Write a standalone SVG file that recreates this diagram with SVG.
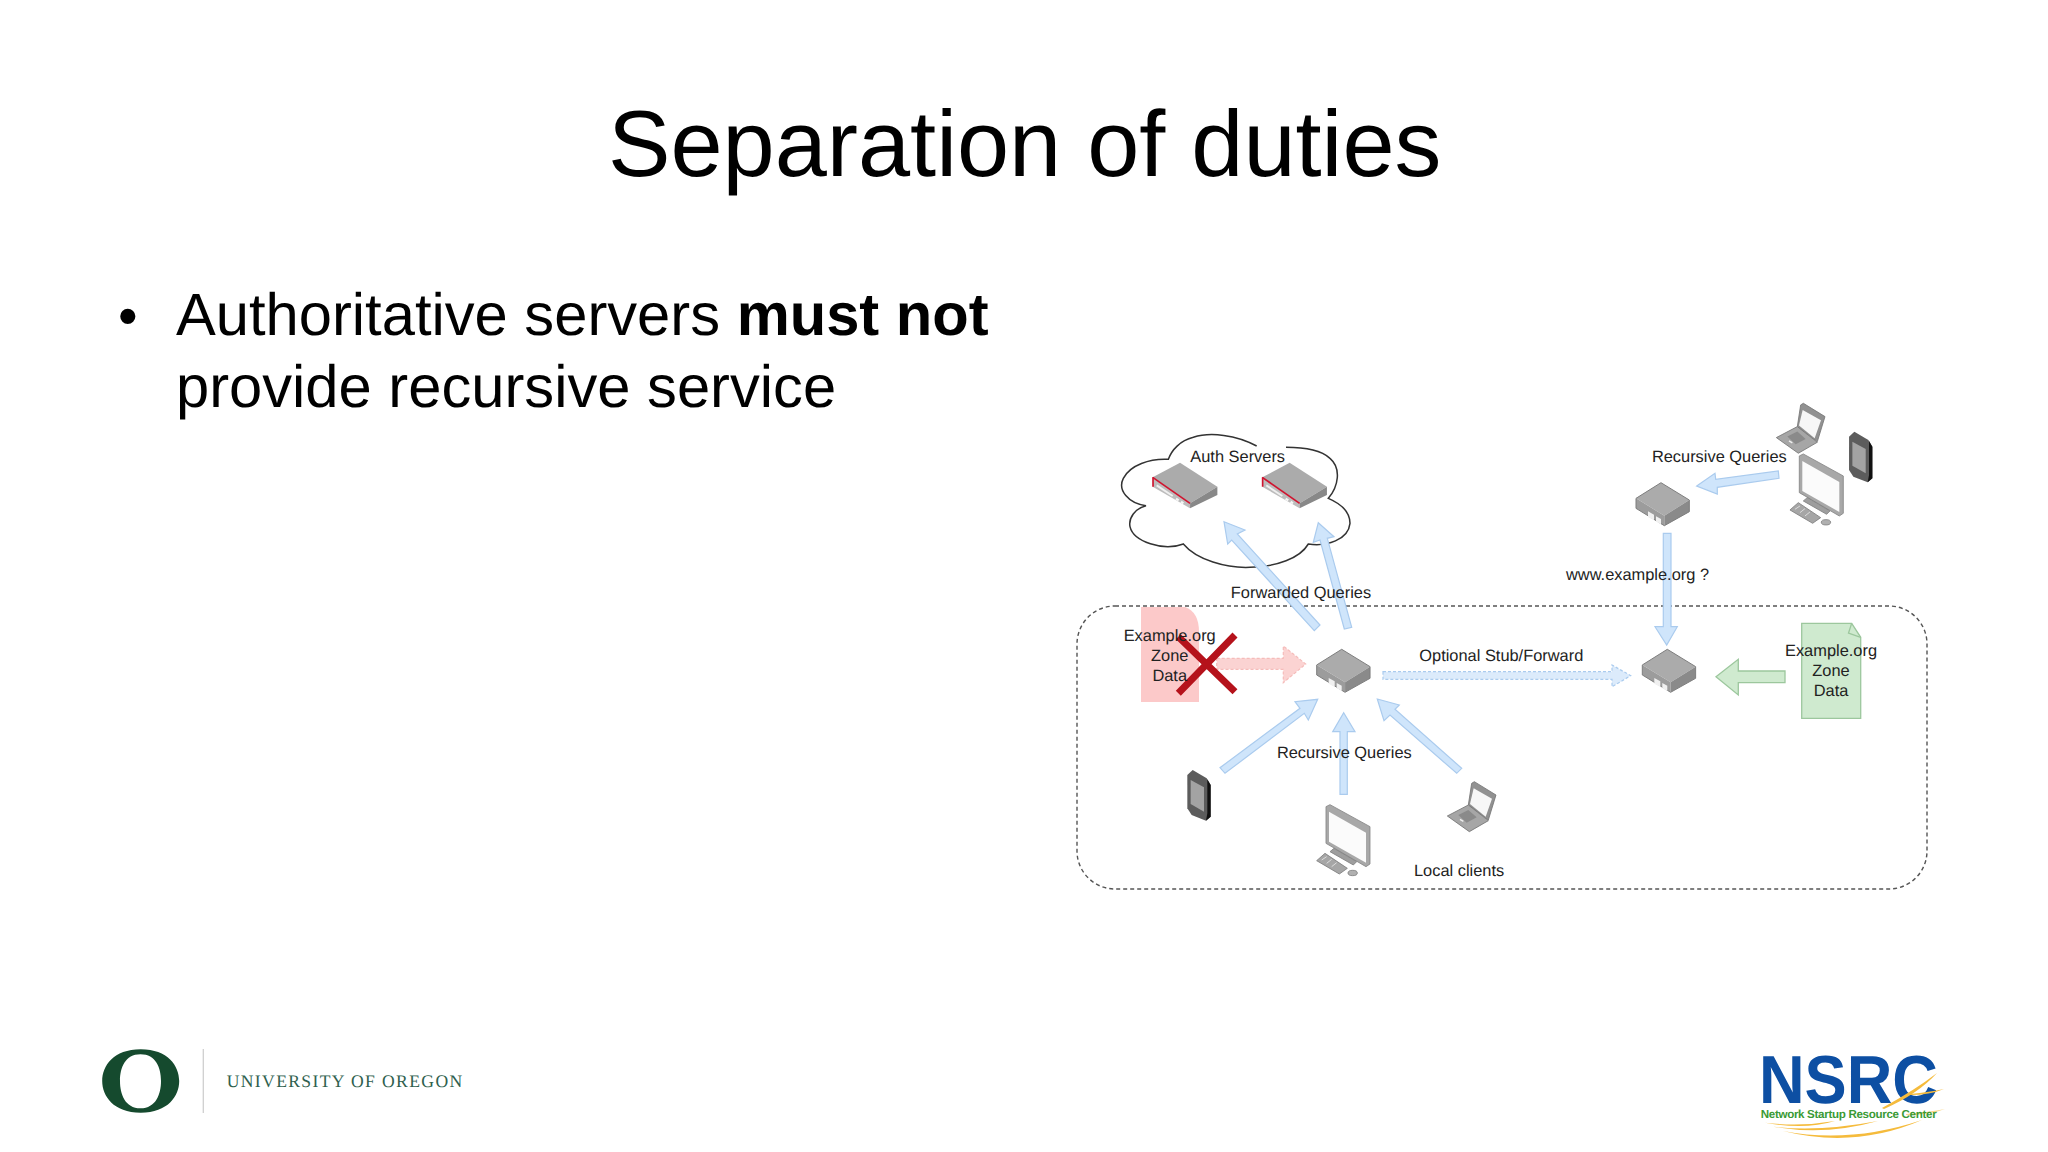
<svg xmlns="http://www.w3.org/2000/svg" width="2048" height="1152" viewBox="0 0 2048 1152">
<style>
text{font-family:"Liberation Sans",Arial,sans-serif;fill:#000;text-rendering:geometricPrecision}
.lbl{font-size:16.4px;fill:#222;text-anchor:middle}
.lbs{font-size:16.4px;fill:#222}
.blue{fill:#cfe5fb;stroke:#aacbee;stroke-width:1.2}
.blued{fill:#dcebfb;stroke:#aacbee;stroke-width:1.2;stroke-dasharray:3 2}
.redd{fill:#fbd3d2;stroke:#f5bcba;stroke-width:1.2;stroke-dasharray:3 2}
.green{fill:#cfeacf;stroke:#9cc79d;stroke-width:1.3}
</style>
<defs>
<g id="box">
<path d="M0 47L75 0L160 52L85 99Z" fill="#ababab"/>
<path d="M0 47L85 99V129L0 77Z" fill="#9c9c9c"/>
<path d="M85 99L160 52V87L85 129Z" fill="#8a8a8a"/>
<path d="M0 47L75 0L160 52V87L85 129L0 77Z" fill="none" stroke="#7d7d7d" stroke-width="3"/>
<path d="M36 86l18 10v17l-18-10ZM60 101l15 8v16l-15-8Z" fill="#f0f0f0"/>
</g>
<g id="server">
<path d="M0 44L82 0L194 72L112 122Z" fill="#ababab"/>
<path d="M0 44L112 122V137L0 72Z" fill="#bdbdbd"/>
<path d="M112 122L194 72V97L112 137Z" fill="#888"/>
<path d="M0 44L112 122" fill="none" stroke="#d0142f" stroke-width="5"/>
<path d="M1 44V72" fill="none" stroke="#d0142f" stroke-width="5"/>
<path d="M12 68L60 100" fill="none" stroke="#efefef" stroke-width="6"/>
<path d="M70 108l8 5M85 117l7 5" fill="none" stroke="#f5f5f5" stroke-width="7"/>
</g>
<g id="phone">
<path d="M382 225L398 210L440 235L452 255V350L438 362L395 345L382 325Z" fill="#5c5c5c"/>
<path d="M442 238L452 255V350L438 362L442 340Z" fill="#111"/>
<path d="M392 240L432 262V335L392 312Z" fill="#a3a3a3"/>
</g>
<g id="desktop">
<path d="M798 320L810 314L930 380V492L918 500L798 430Z" fill="#a8a8a8" stroke="#868686" stroke-width="2.5"/>
<path d="M807 335L918 398V488L807 425Z" fill="#fbfbfb"/>
<path d="M810 455L822 445L890 485L880 495Z" fill="#9e9e9e" stroke="#808080" stroke-width="2.5"/>
<path d="M770 482L795 460L862 505L838 522Z" fill="#a6a6a6" stroke="#7d7d7d" stroke-width="2.5"/>
<path d="M785 480L800 470M800 490L815 478M815 500L830 488" stroke="#dcdcdc" stroke-width="3"/>
<ellipse cx="878" cy="519" rx="14" ry="8" fill="#b0b0b0" stroke="#808080" stroke-width="2.5"/>
</g>
<g id="laptop">
<path d="M1235 250L1243 245L1308 285L1285 360L1225 315Z" fill="#919191" stroke="#757575" stroke-width="2.5"/>
<path d="M1241 265L1296 296L1277 350L1230 312Z" fill="#f7f7f7"/>
<path d="M1162 348L1225 315L1285 362L1228 395Z" fill="#a6a6a6" stroke="#757575" stroke-width="2.5"/>
<path d="M1195 345L1225 330L1250 352L1220 368Z" fill="#8a8a8a"/>
<path d="M1200 358l10 6" stroke="#f0f0f0" stroke-width="4"/>
</g>
</defs>
<rect width="2048" height="1152" fill="#fff"/>

<g id="slide-text">
<text x="608" y="176" font-size="93.7">Separation of duties</text>
<text x="118" y="335" font-size="56">•</text>
<text x="176" y="335" font-size="59.7">Authoritative servers <tspan font-weight="700">must not</tspan></text>
<text x="176" y="407" font-size="59.7">provide recursive service</text>
</g>

<g id="local-network"><rect x="1077" y="606" width="850" height="283" rx="38" fill="none" stroke="#555" stroke-width="1.4" stroke-dasharray="4 3"/></g>

<g id="cloud"><path transform="translate(1060 390) scale(.33333)" d="M590 168C530 135 450 125 400 142C360 152 335 180 325 208C270 205 210 225 190 265C172 300 205 340 258 347C225 355 205 385 210 410C220 455 310 485 370 462C410 510 500 535 570 532C650 530 720 505 745 462C800 470 865 450 870 400C870 365 840 340 805 325C835 290 845 235 810 205C780 178 720 172 678 172" fill="#fff" stroke="#333" stroke-width="4.5"/></g>
<g id="auth-server-1"><use href="#server" transform="translate(1152.7 462.7) scale(.33333)"/></g>
<g id="auth-server-2"><use href="#server" transform="translate(1262.3 462.7) scale(.33333)"/></g>

<g id="zone-red">
<path d="M1141 607H1185Q1199 612 1199 632V702H1141Z" fill="#fcc9c9"/>
</g>
<g id="zone-green">
<path d="M1801.7 623.3H1851.7L1860.7 637.3V718.3H1801.7Z" fill="#cfeacf" stroke="#9cc79d" stroke-width="1.3"/>
<path d="M1851.7 623.3L1848.5 633L1860.7 637.3" fill="none" stroke="#9cc79d" stroke-width="1.3"/>
</g>

<g id="connectors">
<polygon class="blue" points="1224,521.7 1245,530 1237.3,534 1320,625 1314.3,630.7 1231.7,540 1227.7,544"/>
<polygon class="blue" points="1318.3,522.7 1334,536.7 1327.3,538.3 1351.7,627.3 1344.3,629 1320,540 1313.3,542.3"/>
<polygon class="blue" points="1317.7,699.3 1308.3,720 1304.3,713.3 1225,773.3 1220,767.7 1300,708.3 1295,701.7"/>
<polygon class="blue" points="1343.7,712.7 1355,731.7 1347.3,731.7 1347.3,794.3 1340,794.3 1340,731.7 1332.7,731.7"/>
<polygon class="blue" points="1377.3,699 1399.3,705 1395,709.3 1461.7,768.3 1456.7,773.3 1390,715 1384,720.7"/>
<polygon class="blue" points="1696.7,486 1715,473.3 1715.7,479.3 1778.3,471 1779,478.3 1717.3,487.3 1717.3,494"/>
<polygon class="blue" points="1663.3,533.3 1671,533.3 1671,626.7 1677.3,626.7 1666.7,645 1655,626.7 1663.3,626.7"/>
<polygon class="green" points="1716,676.7 1738.3,659.3 1738.3,671 1785,671 1785,682.7 1738.3,682.7 1738.3,695"/>
<polygon class="redd" points="1216.7,658.3 1283.3,658.3 1283.3,646 1305.7,664 1283.3,682.7 1283.3,669.3 1216.7,669.3"/>
<polygon class="blued" points="1383,671.7 1612,671.7 1612,665 1630.7,675.7 1612,686.7 1612,679.3 1383,679.3"/>
</g>

<g id="hub"><use href="#box" transform="translate(1316.7 649.3) scale(.33333)"/></g>
<g id="resolver-top"><use href="#box" transform="translate(1636 482.7) scale(.33333)"/></g>
<g id="resolver-local"><use href="#box" transform="translate(1642.3 649.3) scale(.33333)"/></g>

<g id="phone-local"><use href="#phone" transform="translate(1060 700) scale(.33333)"/></g>
<g id="desktop-local"><use href="#desktop" transform="translate(1060 700) scale(.33333)"/></g>
<g id="laptop-local"><use href="#laptop" transform="translate(1060 700) scale(.33333)"/></g>
<g id="laptop-remote"><use href="#laptop" transform="translate(1389 321.6) scale(.33333)"/></g>
<g id="desktop-remote"><use href="#desktop" transform="translate(1533.3 349.3) scale(.33333)"/></g>
<g id="phone-remote"><use href="#phone" transform="translate(1721.7 361.7) scale(.33333)"/></g>

<g id="red-x"><path d="M1178.3 636.7L1235 691.7M1235 635L1178.3 693.3" fill="none" stroke="#b5121b" stroke-width="7"/></g>

<g id="labels">
<text class="lbl" x="1237.7" y="461.7">Auth Servers</text>
<text class="lbl" x="1301" y="598">Forwarded Queries</text>
<text class="lbl" x="1169.7" y="640.7">Example.org</text>
<text class="lbl" x="1169.7" y="660.7">Zone</text>
<text class="lbl" x="1169.7" y="681">Data</text>
<text class="lbs" x="1419.3" y="661">Optional Stub/Forward</text>
<text class="lbl" x="1344.3" y="758">Recursive Queries</text>
<text class="lbs" x="1414" y="876">Local clients</text>
<text class="lbl" x="1719.3" y="461.7">Recursive Queries</text>
<text class="lbs" x="1566" y="580.3">www.example.org ?</text>
<text class="lbl" x="1831" y="656">Example.org</text>
<text class="lbl" x="1831" y="676">Zone</text>
<text class="lbl" x="1831" y="696">Data</text>
</g>

<g id="oregon-logo">
<path fill-rule="evenodd" fill="#154a2e" d="M140.7 1049.3C168 1049.3 179.2 1066 179.2 1081C179.2 1096 168 1112.7 140.7 1112.7C113.5 1112.7 102.2 1096 102.2 1081C102.2 1066 113.5 1049.3 140.7 1049.3ZM140.5 1054.3C125 1054.3 120 1068 120 1081C120 1094 125 1108.3 140.5 1108.3C156 1108.3 161 1094 161 1081C161 1068 156 1054.3 140.5 1054.3Z"/>
<path d="M203.3 1049V1113" stroke="#cfcfcf" stroke-width="1.3"/>
<text x="226.7" y="1087" font-size="17.6" textLength="235.5" lengthAdjust="spacing" style="font-family:'Liberation Serif','Times New Roman',serif;fill:#2f5f4e">UNIVERSITY OF OREGON</text>
</g>

<g id="nsrc-logo">
<text x="1759" y="1102.7" font-size="68" font-weight="700" textLength="179" lengthAdjust="spacingAndGlyphs" style="fill:#0d4fa3">NSRC</text>
<g fill="#f5bb3c">
<path d="M1765 1122.7Q1800 1127 1835 1121Q1805 1130 1765 1122.7Z"/>
<path d="M1773 1126.7Q1820 1132 1878 1121Q1825 1136 1773 1126.7Z"/>
<path d="M1783 1131Q1850 1144 1922 1120Q1855 1149 1783 1131Z"/>
<path d="M1882 1108Q1915 1090 1937 1073Q1918 1094 1884 1109Z"/>
<path d="M1910 1094Q1930 1092 1944 1089Q1930 1095 1910 1095Z"/>
<path d="M1906 1114Q1930 1112 1945 1109Q1930 1115 1906 1115Z" opacity=".6"/>
</g>
<text x="1760.7" y="1118" font-size="11.6" font-weight="700" textLength="176" lengthAdjust="spacing" style="fill:#3a9a35">Network Startup Resource Center</text>
</g>
</svg>
